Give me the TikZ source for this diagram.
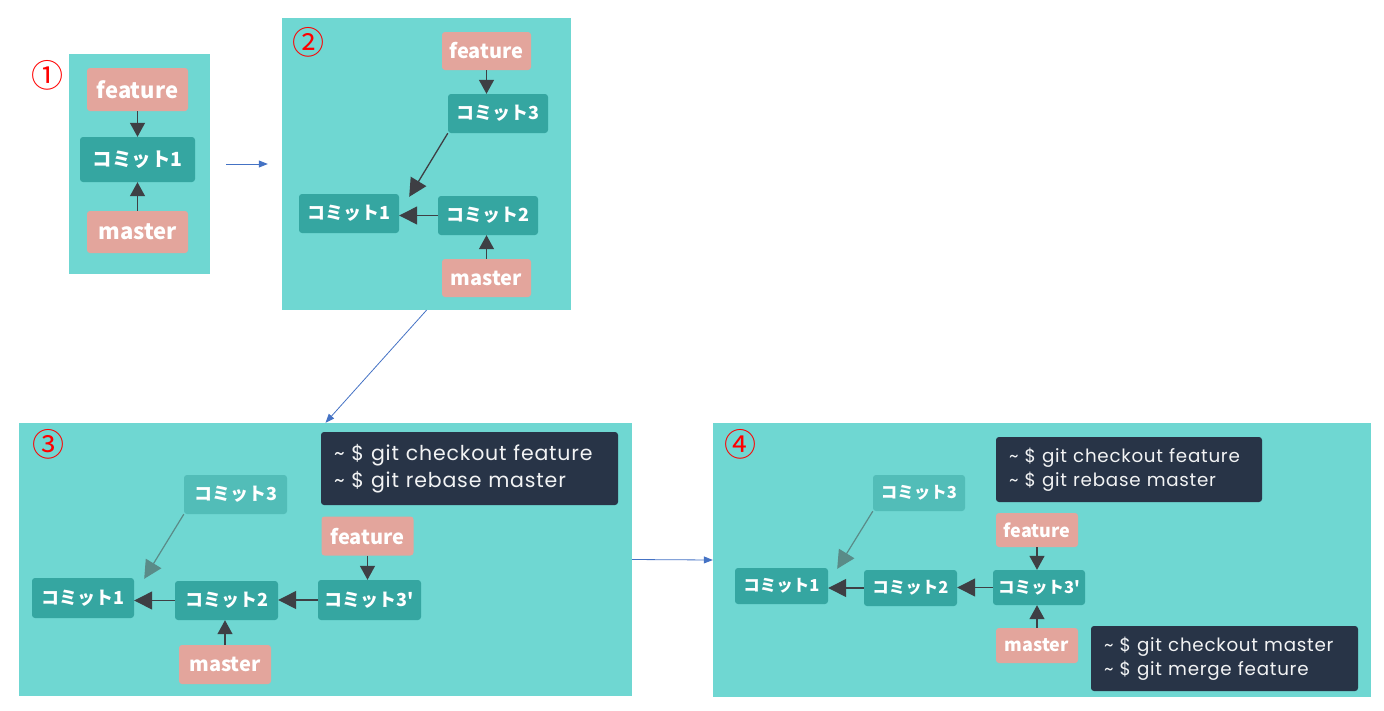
\documentclass[tikz,border=0pt]{standalone}
\usepackage{fontspec}
\setmainfont{Noto Sans CJK JP}
\newfontfamily\termfont{Poppins}[LetterSpace=4]
\usetikzlibrary{arrows.meta,calc}
\definecolor{panelbg}{HTML}{6FD7D2}
\definecolor{commitbg}{HTML}{35A6A1}
\definecolor{oldbg}{HTML}{52BDB8}
\definecolor{branchbg}{HTML}{E3A59C}
\definecolor{termbg}{HTML}{283447}
\definecolor{refdark}{HTML}{3E3F44}
\definecolor{refold}{HTML}{5A8B88}
\definecolor{flowblue}{HTML}{4472C4}
\begin{document}
\begin{tikzpicture}[x=1pt,y=-1pt,
  wh/.style 2 args={minimum width=#1pt,minimum height=#2pt},
  panel/.style={fill=panelbg,inner sep=0pt},
  commit/.style={fill=commitbg,text=white,rounded corners=3pt,inner sep=0pt,font=\bfseries\fontsize{#1}{#1}\selectfont},
  oldcommit/.style={commit=#1,fill=oldbg},
  branch/.style={fill=branchbg,text=white,rounded corners=3pt,inner sep=0pt,font=\bfseries\fontsize{#1}{#1}\selectfont},
  term/.style 2 args={fill=termbg,text=white!94!termbg,rounded corners=3pt,align=left,inner xsep=13pt,inner ysep=0pt,font=\termfont\fontsize{#1}{#2}\selectfont},
  num/.style={text=red,inner sep=0pt,font=\fontsize{32}{32}\selectfont},
  ref/.style={draw=refdark,line width=1.3pt,-{Triangle[width=18pt,length=18pt]}},
  ptr/.style={draw=refdark,line width=1.3pt,-{Triangle[width=15pt,length=14pt]}},
  oldref/.style={draw=refold,line width=1.2pt,-{Triangle[width=18pt,length=18pt,fill=refold]}},
  flow/.style={draw=flowblue,line width=0.8pt,-{Triangle[width=7pt,length=9pt]}}]
\useasboundingbox (0,0) rectangle (1384,710);
\node[panel,wh={141}{220}] (p1) at (139.5,164) {};
\node[panel,wh={289}{292}] (p2) at (426.5,164) {};
\node[panel,wh={613}{273}] (p3) at (325.5,559.5) {};
\node[panel,wh={658}{274}] (p4) at (1042,560) {};
\node[num] (n1) at (47,75) {①};
\node[num] (n2) at (308,42) {②};
\node[num] (n3) at (48,444) {③};
\node[num] (n4) at (740,444) {④};
\draw[flow,shorten <=16pt,shorten >=14pt] (p1.east) -- (p2.west);
\draw[flow] (p2.south) -- (p3.north);
\draw[flow] (p3.east) -- (p4.west);

\node[branch=22,wh={101}{43}] (f1) at (137.5,89.5) {feature};
\node[commit=19.5,wh={115}{45}] (c11) at (137.5,159.5) {コミット1};
\node[branch=22,wh={101}{42}] (m1) at (137.5,232) {master};
\draw[ptr] (f1) -- (c11);
\draw[ptr] (m1) -- (c11);

\node[branch=20,wh={89}{38}] (f2) at (486.5,51) {feature};
\node[commit=18,wh={100}{39}] (c23) at (498,113.5) {コミット3};
\node[commit=18,wh={100}{39}] (c21) at (349,213.5) {コミット1};
\node[commit=18,wh={100}{39}] (c22) at (488,215.5) {コミット2};
\node[branch=20,wh={89}{38}] (m2) at (486.5,278) {master};
\draw[ptr] (f2.south) -- (f2.south |- c23.north);
\draw[ref] (c23.south west) -- ($(c21.north east)+(10,3)$);
\draw[ref] (c22.west) -- (c22.west -| c21.east);
\draw[ptr] (m2.north) -- (m2.north |- c22.south);

\node[term={20.5}{27},wh={297}{73},text width=271pt] (t3) at (469.5,468.5) {\textasciitilde{} \$ git checkout feature\\\textasciitilde{} \$ git rebase master};
\node[oldcommit=18,wh={103}{39}] (c33) at (235.5,494.5) {コミット3};
\node[branch=20,wh={92}{39}] (f3) at (367.5,536) {feature};
\node[commit=18,wh={102}{40}] (c31) at (83,598) {コミット1};
\node[commit=18,wh={103}{39}] (c32) at (226.5,600.5) {コミット2};
\node[commit=18,wh={103}{40}] (c34) at (369.5,600) {コミット3\textquotesingle};
\node[branch=20,wh={92}{39}] (m3) at (225,664.5) {master};
\draw[oldref] (c33.south west) -- ($(c31.north east)+(10,1)$);
\draw[ptr] (f3.south) -- (f3.south |- c34.north);
\draw[ref] (c34.west) -- (c34.west -| c32.east);
\draw[ref] (c32.west) -- (c32.west -| c31.east);
\draw[ptr] (m3.north) -- (m3.north |- c32.south);

\node[term={18.3}{24},wh={266}{65},text width=240pt] (t4) at (1129,469.5) {\textasciitilde{} \$ git checkout feature\\\textasciitilde{} \$ git rebase master};
\node[oldcommit=16.5,wh={92}{36}] (c43) at (919,493) {コミット3};
\node[branch=18,wh={82}{34}] (f4) at (1037,530) {feature};
\node[commit=16.5,wh={93}{36}] (c41) at (781.5,586) {コミット1};
\node[commit=16.5,wh={93}{36}] (c42) at (910.5,588) {コミット2};
\node[commit=16.5,wh={92}{35}] (c44) at (1039,587.5) {コミット3\textquotesingle};
\node[branch=18,wh={82}{35}] (m4) at (1037,645.5) {master};
\node[term={18.3}{24},wh={267}{65},text width=241pt] (t5) at (1224.5,658.5) {\textasciitilde{} \$ git checkout master\\\textasciitilde{} \$ git merge feature};
\draw[oldref] (c43.south west) -- ($(c41.north east)+(9,1)$);
\draw[ptr] (f4.south) -- (f4.south |- c44.north);
\draw[ref] (c44.west) -- (c44.west -| c42.east);
\draw[ref] (c42.west) -- (c42.west -| c41.east);
\draw[ptr] (m4.north) -- (m4.north |- c44.south);
\end{tikzpicture}
\end{document}
